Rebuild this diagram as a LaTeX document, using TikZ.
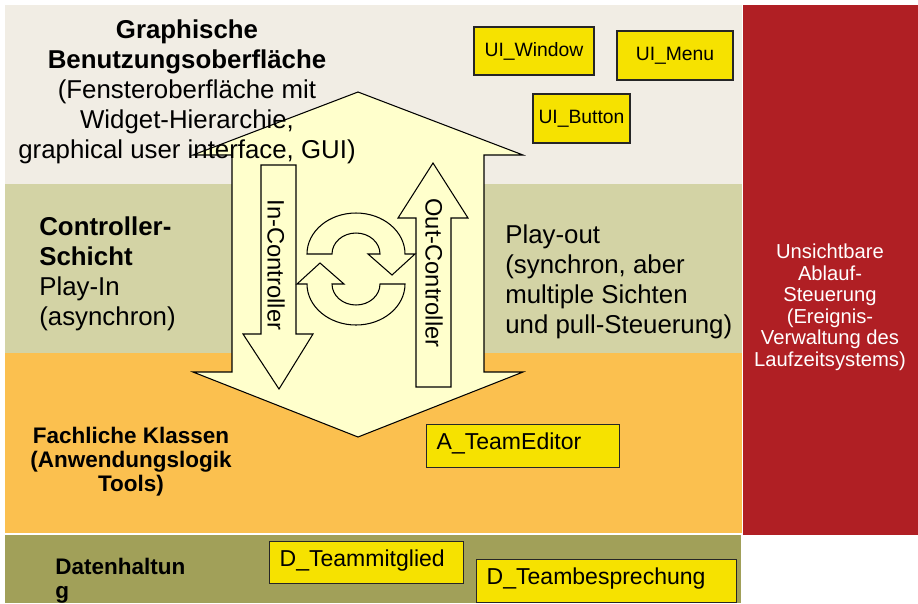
\documentclass[tikz,border=0pt]{standalone}
\usepackage{fontspec}
\setmainfont{Liberation Sans}
\usepackage{tikz}

\definecolor{guibg}{HTML}{F1EDE4}
\definecolor{ctrlbg}{HTML}{D3D3A5}
\definecolor{fachbg}{HTML}{FBC04F}
\definecolor{datenbg}{HTML}{A1A059}
\definecolor{ablaufrot}{HTML}{B01F24}
\definecolor{pfeilgelb}{HTML}{FFFFCC}
\definecolor{klassegelb}{HTML}{F6E200}

\begin{document}
\begin{tikzpicture}[x=0.02cm, y=-0.02cm, % one unit = one pixel of the sketch
    pfeil/.style={draw=black, fill=pfeilgelb, line width=0.6pt, line join=miter},
    klasse/.style={draw=black!85, fill=klassegelb, line width=0.8pt, inner sep=0pt},
    klasseui/.style={klasse, font=\fontsize{11}{13}\selectfont},
    klassetxt/.style={klasse, font=\fontsize{13.1}{15}\selectfont, anchor=north west,
        align=left, inner xsep=0.2cm, minimum height=0.86cm, text depth=5.5pt},
    grosstxt/.style={font=\fontsize{14.7}{17}\selectfont, inner sep=0pt},
    fachtxt/.style={font=\bfseries\fontsize{12.8}{13.6}\selectfont, inner sep=0pt},
    steuertxt/.style={font=\fontsize{13.5}{15}\selectfont, inner sep=0pt, rotate=-90}]

    \useasboundingbox (0,0) rectangle (918,603);

    % 1. Schichten (Hintergrund)
    \fill[guibg] (5,5) rectangle (742,184);
    \fill[ctrlbg] (5,184) rectangle (742,353);
    \fill[fachbg] (5,353) rectangle (742,533);
    \fill[datenbg] (5,535) rectangle (741,603);
    \fill[ablaufrot] (743,5) rectangle (918,535);

    % 2. Grosser Doppelpfeil durch GUI, Controller und Fachklassen
    \draw[pfeil] (358,92) -- (523,155) -- (484,155) -- (484,372) -- (523,372)
        -- (358,437) -- (193,372) -- (232,372) -- (232,155) -- (193,155) -- cycle;

    % 3. In- und Out-Controller
    \draw[pfeil] (261,165) -- (296,165) -- (296,334) -- (313,334) -- (279,389)
        -- (243,334) -- (261,334) -- cycle;
    \draw[pfeil] (416,387) -- (451,387) -- (451,218) -- (468,218) -- (433,163)
        -- (398,218) -- (416,218) -- cycle;
    \node[steuertxt] (inctrl) at (276,265) {In-Controller};
    \node[steuertxt] (outctrl) at (434,273) {Out-Controller};

    % 4. Kreislauf-Symbol
    \draw[pfeil] (307,254) arc[start angle=180, end angle=360, x radius=49, y radius=41]
        -- (415,254) -- (392,275) -- (368,254) -- (380,254)
        arc[start angle=360, end angle=180, x radius=24, y radius=21] -- cycle;
    \draw[pfeil] (405,284) arc[start angle=0, end angle=180, x radius=49, y radius=41]
        -- (297,284) -- (320,263) -- (344,284) -- (332,284)
        arc[start angle=180, end angle=0, x radius=24, y radius=21] -- cycle;

    % 5. Beschriftung der Schichten (base = letzte Zeile)
    \node[grosstxt, align=center, anchor=base] (gui) at (187,158)
        {\textbf{Graphische}\\ \textbf{Benutzungsoberfläche}\\ (Fensteroberfläche mit\\
         Widget-Hierarchie,\\ graphical user interface, GUI)};
    \node[grosstxt, align=left, anchor=base west] (playin) at (39,325)
        {\textbf{Controller-}\\ \textbf{Schicht}\\ Play-In\\ (asynchron)};
    \node[grosstxt, align=left, anchor=base west] (playout) at (505,333)
        {Play-out\\ (synchron, aber\\ multiple Sichten\\ und pull-Steuerung)};
    \node[fachtxt, align=center, anchor=base] (fach) at (131,491)
        {Fachliche Klassen\\ (Anwendungslogik\\ Tools)};
    \node[fachtxt, align=left, anchor=base west] (daten) at (55,598)
        {Datenhaltun\\ g};
    \node[font=\fontsize{11.5}{12.2}\selectfont, text=white, align=center, anchor=base,
        inner sep=0pt] (ablauf) at (830,366)
        {Unsichtbare\\ Ablauf-\\ Steuerung\\ (Ereignis-\\ Verwaltung des\\ Laufzeitsystems)};

    % 6. Klassen in den Schichten
    \node[klasseui, minimum width=2.4cm, minimum height=0.96cm] (uiwin) at (534,51) {UI\_Window};
    \node[klasseui, minimum width=2.32cm, minimum height=0.98cm] (uimenu) at (675,55.5) {UI\_Menu};
    \node[klasseui, minimum width=1.94cm, minimum height=0.98cm] (uibtn) at (581.5,118.5) {UI\_Button};
    \node[klassetxt, text width=3.46cm] (ateam) at (426,424) {A\_TeamEditor};
    \node[klassetxt, text width=3.48cm, minimum height=0.84cm] (dmit) at (269,541) {D\_Teammitglied};
    \node[klassetxt, text width=4.8cm] (dbespr) at (476,559) {D\_Teambesprechung};
\end{tikzpicture}
\end{document}
